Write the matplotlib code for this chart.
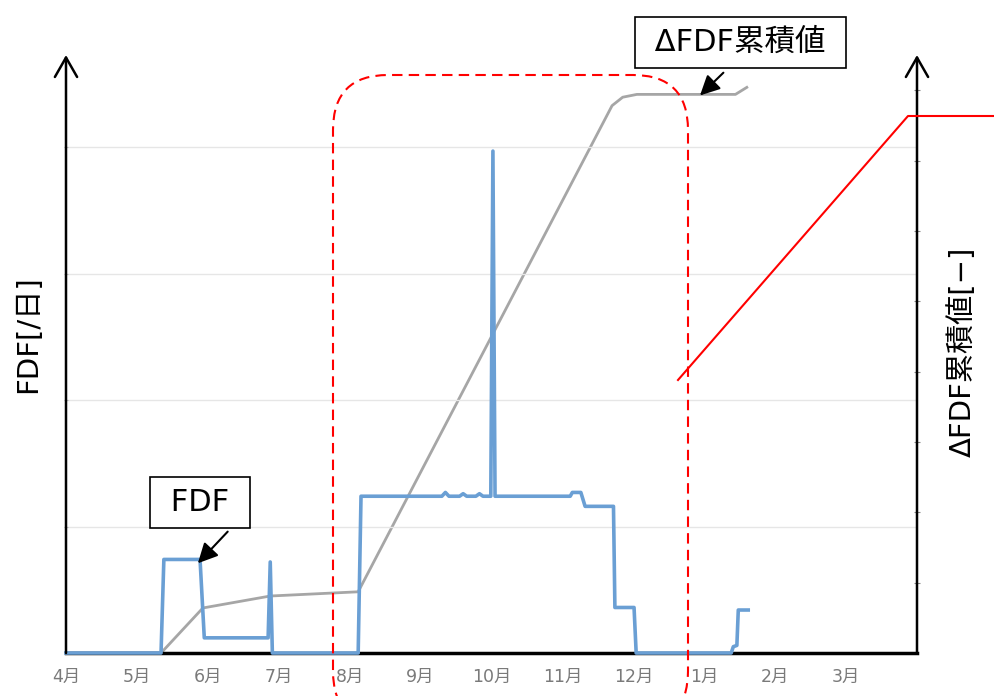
import matplotlib
matplotlib.use('Agg')
import matplotlib.pyplot as plt
from matplotlib.patches import FancyBboxPatch
from matplotlib.lines import Line2D

plt.rcParams['font.family'] = ['DejaVu Sans', 'Noto Sans CJK JP']

# x: months since start of April
month_labels = ['4月', '5月', '6月', '7月', '8月', '9月', '10月', '11月', '12月', '1月', '2月', '3月']

# FDF [/日] (left axis, gridline units)
fdf_month = [0, 1.34, 1.38, 1.89, 1.95, 2.85, 2.88, 2.91, 4.12, 4.16, 5.30, 5.35, 5.40,
             5.55, 5.60, 5.65, 5.78, 5.83, 5.88, 5.99, 6.02, 6.05, 7.11, 7.14, 7.26,
             7.32, 7.72, 7.74, 8.01, 8.04, 9.38, 9.41, 9.46, 9.48, 9.62]
fdf_value = [0, 0, 0.74, 0.74, 0.12, 0.12, 0.72, 0, 0, 1.24, 1.24, 1.27, 1.24,
             1.24, 1.26, 1.24, 1.24, 1.26, 1.24, 1.24, 3.97, 1.24, 1.24, 1.27, 1.27,
             1.16, 1.16, 0.36, 0.36, 0, 0, 0.05, 0.06, 0.34, 0.34]

# ΔFDF累積値 [-] (right axis)
cum_month = [0, 1.34, 1.93, 2.88, 4.12, 7.70, 7.85, 8.05, 9.44, 9.60]
cum_value = [0, 0, 0.64, 0.81, 0.87, 7.78, 7.90, 7.94, 7.94, 8.04]

fig = plt.figure(figsize=(9.94, 6.96), dpi=100)
ax = fig.add_axes([66 / 994, 43 / 696, 851 / 994, 598 / 696])
ax2 = ax.twinx()

ax.plot(fdf_month, fdf_value, color='#6a9fd4', lw=2.6, zorder=3, clip_on=False)
ax2.plot(cum_month, cum_value, color='#a6a6a6', lw=2.0, zorder=4)

ax.set_xlim(0, 12)
ax.set_ylim(0, 4.73)
ax2.set_ylim(0, 8.5)
ax.set_zorder(ax2.get_zorder() + 1)
ax.patch.set_visible(False)

# axes styling
for a in (ax, ax2):
    for s in ('top', 'left', 'right'):
        a.spines[s].set_visible(False)
ax.spines['bottom'].set_linewidth(2.5)
ax.spines['bottom'].set_color('black')
ax2.spines['bottom'].set_visible(False)

ax.set_yticks([1, 2, 3, 4])
ax.set_yticklabels([])
ax.tick_params(axis='y', length=3, color='#bbbbbb', direction='inout')
ax.grid(axis='y', color='#e6e6e6', lw=1)

ax2.set_yticks(range(1, 9))
ax2.set_yticklabels([])
ax2.tick_params(axis='y', length=5, color='#888888', direction='inout')

ax.set_xticks(range(12))
ax.set_xticklabels(month_labels, color='#7a7a7a', fontsize=12.5)
ax.tick_params(axis='x', length=0, pad=11)

ax.set_ylabel('FDF[/日]', fontsize=21)
ax.yaxis.set_label_coords(-0.028, 0.533)
ax2.set_ylabel('ΔFDF累積値[−]', fontsize=21)
ax2.yaxis.set_label_coords(1.036, 0.503)

# axis arrows
arrow = dict(arrowstyle='->,head_length=0.7,head_width=0.4', lw=1.8, color='black',
             shrinkA=0, shrinkB=0, mutation_scale=20)
ax.annotate('', xy=(0, 1), xytext=(0, 0), xycoords='axes fraction', arrowprops=arrow)
ax.annotate('', xy=(1, 1), xytext=(1, 0), xycoords='axes fraction', arrowprops=arrow)

# callout boxes
box = dict(boxstyle='square,pad=0.35', fc='white', ec='black', lw=1.2)
ax.text(1.89, 1.19, ' FDF ', fontsize=22, ha='center', va='center', bbox=box, zorder=6)
ax.text(9.51, 4.83, ' ΔFDF累積値 ', fontsize=22, ha='center', va='center', bbox=box,
        zorder=6, clip_on=False)
pointer = dict(arrowstyle='-|>,head_length=0.8,head_width=0.4', color='black', lw=1.5,
               shrinkA=0, shrinkB=0, mutation_scale=15)
ax.annotate('', xy=(1.86, 0.71), xytext=(2.28, 0.96), arrowprops=pointer, zorder=6)
ax.annotate('', xy=(8.94, 4.41), xytext=(9.27, 4.59), arrowprops=pointer, zorder=6,
            annotation_clip=False)

# red dashed highlight and leader line
rect = FancyBboxPatch((3.33, -0.3), 3.55, 6.51, boxstyle='round,pad=0,rounding_size=0.55',
                      transform=fig.dpi_scale_trans, fill=False, ec='#ff0000', lw=1.5,
                      ls=(0, (5, 3)), zorder=10)
fig.patches.append(rect)
fig.lines.append(Line2D([6.78, 9.08, 9.94], [3.16, 5.80, 5.80], color='#ff0000', lw=1.5,
                        transform=fig.dpi_scale_trans, zorder=10))

fig.savefig('out.png', dpi=100)
